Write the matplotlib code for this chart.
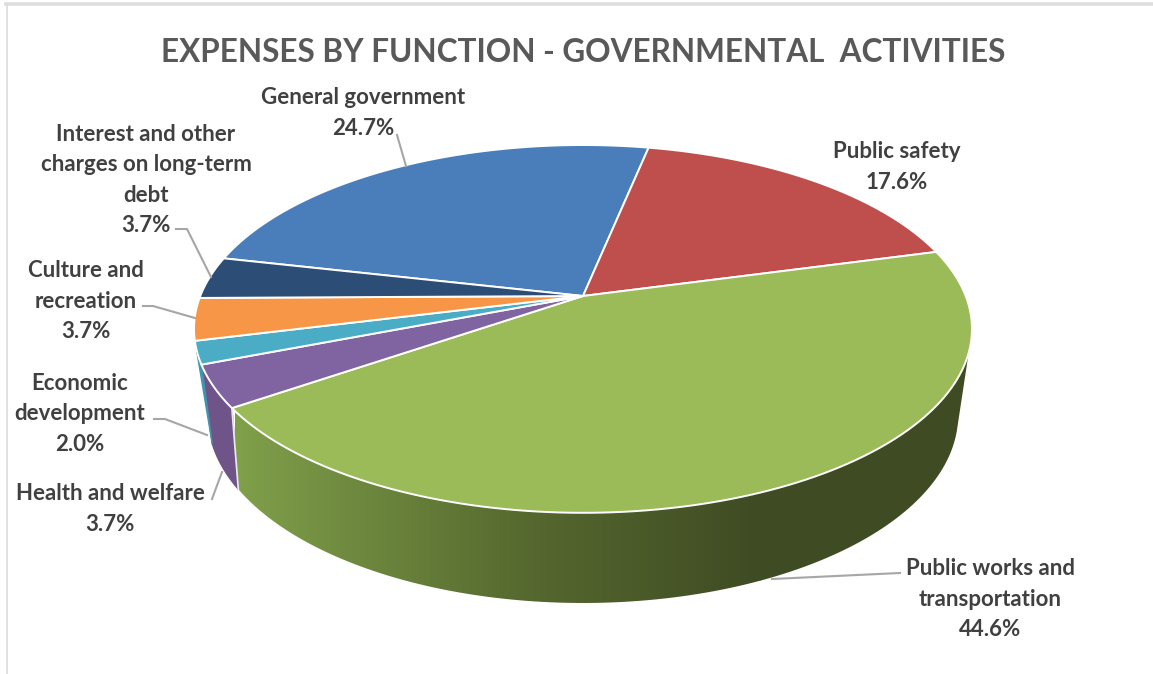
import matplotlib
matplotlib.use('Agg')
import matplotlib.pyplot as plt
import numpy as np
from matplotlib.colors import LinearSegmentedColormap
from matplotlib.patches import Polygon

# Data
categories = ['General government', 'Public safety', 'Public works and\ntransportation',
              'Health and welfare', 'Economic\ndevelopment', 'Culture and\nrecreation',
              'Interest and other\ncharges on long-term\ndebt']
values = [24.7, 17.6, 44.6, 3.7, 2.0, 3.7, 3.7]
colors = ['#4A7EBB', '#BE4F4D', '#9BBB59', '#8064A2', '#4BACC6', '#F79646', '#2C4D75']
title = 'EXPENSES BY FUNCTION - GOVERNMENTAL  ACTIVITIES'

# Label centres and leader lines, in picture pixels
label_pos = [(363, 113), (897, 167), (990, 599), (110, 509), (80, 414), (86, 301), (146, 180)]
leaders = [[(397, 135), (406, 166)],
           None,
           [(900, 573), (772, 579)],
           [(212, 499), (222, 472)],
           [(154, 419), (165, 419), (207, 435)],
           [(143, 306), (153, 306), (195, 318)],
           [(176, 229), (187, 229), (211, 277)]]

plt.rcParams['font.family'] = ['Lato', 'DejaVu Sans']

# Look of the tilted pie (top face and lower rim)
first_angle = 167.3
top = dict(cx=583, cy=296, a=382.7, b=178, k=0.179)
rim = dict(cx=583, cy=373.5, a=366, b=179, k=0.22)


def project(theta, r, p):
    # circle point -> screen, with a bit of perspective
    t = np.radians(theta)
    x = r * np.cos(t)
    y = -r * np.sin(t)
    w = 1 - p['k'] * y
    return p['cx'] + p['a'] * x / w, p['cy'] + p['b'] * y / w


def arc(t0, t1, p):
    ts = np.linspace(t0, t1, 120)
    return np.column_stack(project(ts, 1.0, p))


fig = plt.figure(figsize=(11.53, 6.74), dpi=100)
ax = fig.add_axes([0, 0, 1, 1])

# Slice angles, clockwise from the first slice
sweep = np.array(values) / sum(values) * 360
ends = first_angle - np.cumsum(sweep)
starts = ends + sweep

# Side wall of public works, shaded left to right
wall_end = -17.6
wall = np.vstack([arc(starts[3], wall_end, top), arc(wall_end, starts[3], rim)])
grad_cmap = LinearSegmentedColormap.from_list('wall', [(0, '#80A04A'), (0.55, '#56692F'), (1, '#3F4B23')])
img = ax.imshow(np.linspace(0, 1, 256).reshape(1, -1), cmap=grad_cmap, aspect='auto',
                extent=(235, 760, 620, 300), zorder=1)
dark = ax.fill([760, 990, 990, 760], [300, 300, 620, 620], color='#3F4B23', zorder=1)[0]
dark.set_clip_path(Polygon(wall, transform=ax.transData))
img.set_clip_path(Polygon(wall, transform=ax.transData))

ax.set_xlim(0, 1153)
ax.set_ylim(674, 0)
ax.axis('off')

ax.plot(*np.column_stack([arc(starts[3], starts[3], top)[0], arc(starts[3], starts[3], rim)[0]]),
        color='#E8E8E8', lw=1.3, zorder=3)

# Health wall, then the thin sliver of economic development
health_wall = np.vstack([arc(starts[3], ends[3], top), arc(ends[3], starts[3], rim)])
ax.fill(health_wall[:, 0], health_wall[:, 1], color='#6E5489', zorder=2)
econ_wall = np.vstack([arc(ends[3], ends[3] - 4.5, top), arc(ends[3], ends[3], rim)[:1]])
ax.fill(econ_wall[:, 0], econ_wall[:, 1], color='#3F96AD', zorder=2)

# Top face
for i in range(len(values)):
    edge = arc(starts[i], ends[i], top)
    centre = project(0, 0.0, top)
    pts = np.vstack([centre, edge])
    ax.fill(pts[:, 0], pts[:, 1], facecolor=colors[i], edgecolor='white', lw=1.4,
            joinstyle='round', zorder=4)

# Labels
for i, name in enumerate(categories):
    ax.text(label_pos[i][0], label_pos[i][1], f'{name}\n{values[i]:.1f}%', ha='center', va='center',
            fontsize=16, fontweight='bold', color='#404040', linespacing=1.55, zorder=6)
    if leaders[i] is not None:
        xs, ys = zip(*leaders[i])
        ax.plot(xs, ys, color='#A6A6A6', lw=1.5, zorder=5, solid_joinstyle='round')

ax.text(583, 52, title, ha='center', va='center', fontsize=22.7, fontweight='bold', color='#595959')

# Window frame
ax.plot([6, 1153], [4, 4], color='#DEDEDE', lw=2.6, zorder=7)
ax.plot([6.5, 6.5], [4, 674], color='#DEDEDE', lw=1.3, zorder=7)

fig.savefig('out.png', dpi=100, facecolor='white')
